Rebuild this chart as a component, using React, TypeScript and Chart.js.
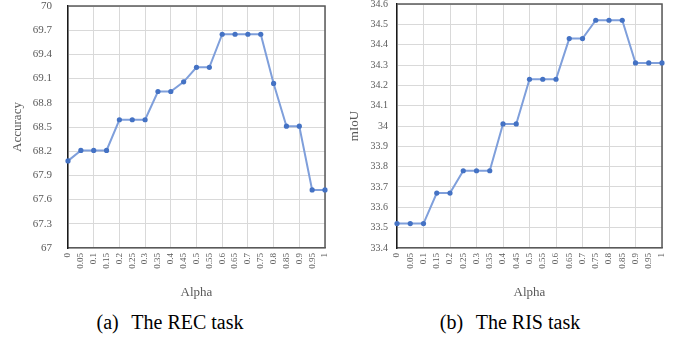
import React, { useEffect, useRef } from "react";
import { Chart, registerables } from "chart.js";

Chart.register(...registerables);

const alphaLabels = ["0", "0.05", "0.1", "0.15", "0.2", "0.25", "0.3", "0.35", "0.4", "0.45", "0.5", "0.55", "0.6", "0.65", "0.7", "0.75", "0.8", "0.85", "0.9", "0.95", "1"];
const recAccuracy = [68.08, 68.21, 68.21, 68.21, 68.59, 68.59, 68.59, 68.94, 68.94, 69.06, 69.24, 69.24, 69.65, 69.65, 69.65, 69.65, 69.04, 68.51, 68.51, 67.72, 67.72];
const risMiou = [33.52, 33.52, 33.52, 33.67, 33.67, 33.78, 33.78, 33.78, 34.01, 34.01, 34.23, 34.23, 34.23, 34.43, 34.43, 34.52, 34.52, 34.52, 34.31, 34.31, 34.31];
const recTicks = [67, 67.3, 67.6, 67.9, 68.2, 68.5, 68.8, 69.1, 69.4, 69.7, 70];
const risTicks = [33.4, 33.5, 33.6, 33.7, 33.8, 33.9, 34, 34.1, 34.2, 34.3, 34.4, 34.5, 34.6];

const FONT = "'Liberation Serif', 'Times New Roman', serif";

const framePlugin = {
  id: "frame",
  beforeDatasetsDraw(chart: any) {
    const { ctx, chartArea } = chart;
    const { left, top, right, bottom } = chartArea;
    ctx.save();
    ctx.strokeStyle = "#595959";
    ctx.lineWidth = 1.5;
    ctx.beginPath();
    ctx.moveTo(left, top);
    ctx.lineTo(right, top);
    ctx.lineTo(right, bottom);
    ctx.stroke();
    ctx.restore();
  },
};

type PanelProps = {
  values: number[];
  ticks: number[];
  yTitle: string;
  yAxisWidth: number;
  padRight: number;
  padTop: number;
  yTickSize: number;
  yTickPad: number;
  yTitlePad: number;
};

function Panel(p: PanelProps) {
  const ref = useRef<HTMLCanvasElement | null>(null);
  useEffect(() => {
    if (!ref.current) return;
    const yMin = p.ticks[0];
    const yMax = p.ticks[p.ticks.length - 1];
    const chart = new Chart(ref.current, {
      type: "line",
      data: {
        labels: alphaLabels,
        datasets: [
          {
            data: p.values,
            borderColor: "#7f9fdb",
            borderWidth: 2,
            pointRadius: 2.6,
            pointBorderWidth: 0,
            pointBackgroundColor: "#4472c4",
            tension: 0,
            clip: false as any,
          },
        ],
      },
      options: {
        animation: false,
        responsive: false,
        layout: { padding: { left: 0, right: p.padRight, top: p.padTop, bottom: 0 } },
        plugins: { legend: { display: false }, tooltip: { enabled: false } },
        scales: {
          x: {
            type: "category",
            offset: false,
            grid: {
              drawTicks: false,
              color: (ctx: any) => (ctx.index % 2 === 0 ? "#d9d9d9" : "rgba(0,0,0,0)"),
              lineWidth: 1,
            },
            border: { color: "#595959", width: 1.5 },
            ticks: {
              autoSkip: false,
              maxRotation: 90,
              minRotation: 90,
              padding: 5,
              color: "#595959",
              font: { family: FONT, size: 9 },
            },
            title: {
              display: true,
              text: "Alpha",
              color: "#595959",
              font: { family: FONT, size: 13 },
              padding: { top: 5, bottom: 0 },
            },
            afterFit: (scale: any) => {
              scale.height = 52;
              scale.paddingLeft = 0;
              scale.paddingRight = 0;
            },
          },
          y: {
            type: "linear",
            min: yMin,
            max: yMax,
            afterBuildTicks: (scale: any) => {
              scale.ticks = p.ticks.map((v) => ({ value: v }));
            },
            grid: { drawTicks: false, color: "#d9d9d9", lineWidth: 1 },
            border: { color: "#1a1a1a", width: 1.5 },
            ticks: {
              padding: p.yTickPad,
              color: "#595959",
              font: { family: FONT, size: p.yTickSize },
              callback: (v: any) => String(Number(Number(v).toFixed(2))),
            },
            title: {
              display: true,
              text: p.yTitle,
              color: "#595959",
              font: { family: FONT, size: 13 },
              padding: { top: p.yTitlePad, bottom: 0 },
            },
            afterFit: (scale: any) => {
              scale.width = p.yAxisWidth;
              scale.paddingTop = 0;
              scale.paddingBottom = 0;
            },
          },
        },
      },
      plugins: [framePlugin],
    });
    return () => chart.destroy();
  }, []);
  return <canvas ref={ref} width={340} height={300} style={{ display: "block", width: 340, height: 300 }} />;
}

const captionStyle: React.CSSProperties = {
  position: "absolute",
  top: 309,
  width: 340,
  textAlign: "center",
  fontFamily: FONT,
  fontSize: 20,
  lineHeight: "26px",
  color: "#000",
};

export default function App() {
  return (
    <div style={{ position: "absolute", left: 0, top: 0, width: 680, height: 341, background: "#fff", overflow: "hidden" }}>
      <div style={{ position: "absolute", left: 0, top: 0 }}>
        <Panel values={recAccuracy} ticks={recTicks} yTitle="Accuracy" yAxisWidth={68} padRight={15} padTop={6} yTickSize={11} yTickPad={16} yTitlePad={10} />
      </div>
      <div style={{ position: "absolute", left: 340, top: 0 }}>
        <Panel values={risMiou} ticks={risTicks} yTitle="mIoU" yAxisWidth={57} padRight={18} padTop={4} yTickSize={10} yTickPad={9} yTitlePad={7} />
      </div>
      <div style={{ ...captionStyle, left: 0 }}>
        <span style={{ marginRight: 8 }}>(a)</span> The REC task
      </div>
      <div style={{ ...captionStyle, left: 340 }}>
        <span style={{ marginRight: 8 }}>(b)</span> The RIS task
      </div>
    </div>
  );
}
